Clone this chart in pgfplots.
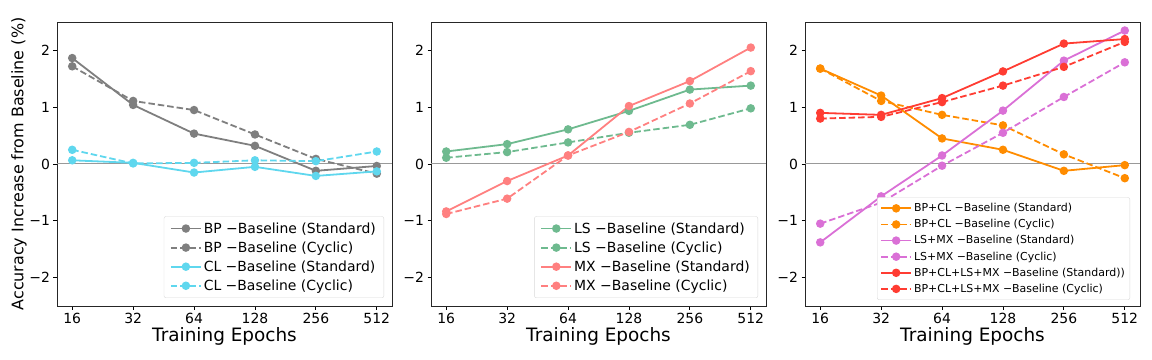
\documentclass[border=0pt]{standalone}
\usepackage{fontspec}
\setmainfont{DejaVu Sans}
\usepackage{pgfplots}
\pgfplotsset{compat=1.18}
\definecolor{cgray}{RGB}{127,127,127}
\definecolor{ccyan}{RGB}{95,215,238}
\definecolor{cgreen}{RGB}{110,186,143}
\definecolor{csalmon}{RGB}{255,128,128}
\definecolor{corange}{RGB}{255,140,0}
\definecolor{corchid}{RGB}{218,112,214}
\definecolor{cred}{RGB}{255,60,50}
\pgfplotsset{
  panel/.style={
    width=335bp, height=284bp, scale only axis, anchor=south west,
    xmin=-0.25, xmax=5.25, ymin=-2.5, ymax=2.5,
    xtick={0,...,5}, xticklabels={16,32,64,128,256,512},
    ytick={-2,-1,0,1,2}, yticklabels={−2,−1,0,1,2},
    tick align=outside, xtick pos=left, ytick pos=left,
    major tick length=3.5bp,
    tick style={black, line width=0.8bp},
    axis line style={black!85, line width=0.8bp},
    tick label style={font=\fontsize{14}{16}\selectfont},
    xlabel={Training Epochs},
    xlabel style={font=\fontsize{18.5}{21}\selectfont, yshift=3bp},
    every axis plot/.append style={line width=1.8bp, mark=*, mark size=3.3bp, mark options={solid}},
    legend cell align=left,
    legend image code/.code={\draw[mark repeat=2,mark phase=2,##1] plot coordinates {(0bp,0bp) (15bp,0bp) (30bp,0bp)};},
    legend style={at={(1,0)}, xshift=-8bp, yshift=8bp, anchor=south east,
      draw=black!15, rounded corners=2bp, fill=white,
      font=\fontsize{14}{16}\selectfont, row sep=3bp, inner xsep=6bp, inner ysep=4bp},
  },
  std/.style={solid},
  cyc/.style={dash pattern=on 6.5bp off 3bp},
  zeroline/.style={black!40, line width=1bp, no marks, forget plot},
}
\begin{document}
\begin{tikzpicture}
\path[use as bounding box] (0,0) rectangle (1152bp,360bp);
% Panel 1
\begin{axis}[panel, at={(57bp,54bp)},
  ylabel={Accuracy Increase from Baseline (\%)},
  ylabel style={font=\fontsize{16}{18}\selectfont, yshift=-4bp}]
\addplot[zeroline] coordinates {(-0.25,0) (5.25,0)};
\addplot[cgray, std] coordinates {(0,1.865) (1,1.04) (2,0.535) (3,0.32) (4,-0.12) (5,-0.035)};
\addlegendentry{BP −Baseline (Standard)}
\addplot[cgray, cyc] coordinates {(0,1.72) (1,1.11) (2,0.95) (3,0.52) (4,0.09) (5,-0.17)};
\addlegendentry{BP −Baseline (Cyclic)}
\addplot[ccyan, std] coordinates {(0,0.065) (1,0.02) (2,-0.15) (3,-0.05) (4,-0.21) (5,-0.13)};
\addlegendentry{CL −Baseline (Standard)}
\addplot[ccyan, cyc] coordinates {(0,0.25) (1,0.01) (2,0.02) (3,0.065) (4,0.05) (5,0.22)};
\addlegendentry{CL −Baseline (Cyclic)}
\end{axis}
% Panel 2
\begin{axis}[panel, at={(431bp,54bp)}]
\addplot[zeroline] coordinates {(-0.25,0) (5.25,0)};
\addplot[cgreen, std] coordinates {(0,0.22) (1,0.35) (2,0.61) (3,0.935) (4,1.31) (5,1.38)};
\addlegendentry{LS −Baseline (Standard)}
\addplot[cgreen, cyc] coordinates {(0,0.11) (1,0.21) (2,0.38) (3,0.55) (4,0.69) (5,0.98)};
\addlegendentry{LS −Baseline (Cyclic)}
\addplot[csalmon, std] coordinates {(0,-0.835) (1,-0.30) (2,0.15) (3,1.02) (4,1.46) (5,2.05)};
\addlegendentry{MX −Baseline (Standard)}
\addplot[csalmon, cyc] coordinates {(0,-0.88) (1,-0.61) (2,0.15) (3,0.565) (4,1.065) (5,1.635)};
\addlegendentry{MX −Baseline (Cyclic)}
\end{axis}
% Panel 3
\begin{axis}[panel, at={(805bp,54bp)},
  legend style={font=\fontsize{11}{13}\selectfont, row sep=2.3bp, inner xsep=3bp, xshift=-2bp, yshift=-2bp}]
\addplot[zeroline] coordinates {(-0.25,0) (5.25,0)};
\addplot[corange, std] coordinates {(0,1.68) (1,1.205) (2,0.45) (3,0.25) (4,-0.12) (5,-0.02)};
\addlegendentry{BP+CL −Baseline (Standard)}
\addplot[corange, cyc] coordinates {(0,1.68) (1,1.11) (2,0.865) (3,0.68) (4,0.17) (5,-0.25)};
\addlegendentry{BP+CL −Baseline (Cyclic)}
\addplot[corchid, std] coordinates {(0,-1.38) (1,-0.57) (2,0.15) (3,0.94) (4,1.82) (5,2.35)};
\addlegendentry{LS+MX −Baseline (Standard)}
\addplot[corchid, cyc] coordinates {(0,-1.05) (1,-0.68) (2,-0.03) (3,0.55) (4,1.18) (5,1.79)};
\addlegendentry{LS+MX −Baseline (Cyclic)}
\addplot[cred, std] coordinates {(0,0.90) (1,0.865) (2,1.16) (3,1.63) (4,2.12) (5,2.20)};
\addlegendentry{BP+CL+LS+MX −Baseline (Standard))}
\addplot[cred, cyc] coordinates {(0,0.80) (1,0.83) (2,1.09) (3,1.38) (4,1.71) (5,2.15)};
\addlegendentry{BP+CL+LS+MX −Baseline (Cyclic)}
\end{axis}
\end{tikzpicture}
\end{document}
